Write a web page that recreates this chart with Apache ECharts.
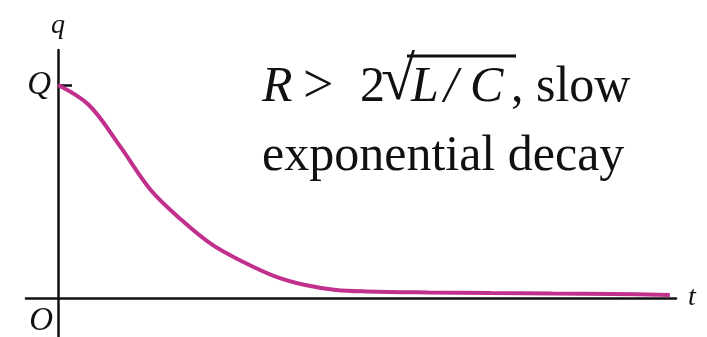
<!DOCTYPE html>
<html>
<head>
<meta charset="utf-8">
<script src="https://cdn.jsdelivr.net/npm/echarts@6/dist/echarts.min.js"></script>
<style>
  html, body { margin: 0; padding: 0; background: #ffffff; }
  #chart { width: 707px; height: 337px; }
</style>
</head>
<body>
<div id="chart"></div>
<script>
// Charge q(t) on an overdamped RLC circuit, starting from q = Q.
const timeValues   = [0, 0.5, 1.0, 1.5, 2.0, 2.5, 3.0, 3.5, 4.0, 4.5, 5.0, 6.0, 7.0, 8.0, 9.0, 9.9];
const chargeValues = [1.0, 0.906, 0.714, 0.507, 0.366, 0.249, 0.169, 0.103, 0.061, 0.038, 0.031, 0.026, 0.023, 0.021, 0.019, 0.014];
const chargeTicks  = [1];
const chargeTickLabels = ['Q'];
const originLabel  = ['O'];
const axisNames    = ['t', 'q'];

const serif = '"Liberation Serif", "Times New Roman", serif';
const ink = '#111111';

const chart = echarts.init(document.getElementById('chart'), null, { renderer: 'canvas' });

chart.setOption({
  animation: false,
  backgroundColor: '#ffffff',
  grid: { left: 26, right: 31, top: 50, bottom: 0, containLabel: false, outerBoundsMode: 'none' },
  xAxis: {
    type: 'value',
    min: -0.518,
    max: 10,
    name: axisNames[0],
    nameLocation: 'end',
    nameGap: 12,
    nameTextStyle: { fontFamily: serif, fontStyle: 'italic', fontSize: 28, color: ink, verticalAlign: 'middle', padding: [30, 0, 0, 0] },
    axisLine: { onZero: true, lineStyle: { color: ink, width: 2.5 } },
    axisTick: { show: false },
    splitLine: { show: false },
    axisLabel: { show: false }
  },
  yAxis: {
    type: 'value',
    min: -0.183,
    max: 1.164,
    name: axisNames[1],
    nameLocation: 'end',
    nameGap: 10,
    nameTextStyle: { fontFamily: serif, fontStyle: 'italic', fontSize: 28, color: ink },
    axisLine: { onZero: true, lineStyle: { color: ink, width: 2.5 } },
    axisTick: { show: true, customValues: chargeTicks, inside: true, length: 14, lineStyle: { color: ink, width: 2.5 } },
    splitLine: { show: false },
    axisLabel: { show: false }
  },
  series: [{
    type: 'line',
    data: timeValues.map((t, i) => [t, chargeValues[i]]),
    smooth: 0.35,
    symbol: 'none',
    lineStyle: { color: '#c1308c', width: 4 },
    z: 3
  }],
  graphic: [
    { id: 'r', type: 'text', left: 262, top: 63, style: { text: 'R', font: 'italic 50px ' + serif, fill: ink } },
    { id: 'gt', type: 'text', left: 303, top: 61, style: { text: '>', font: '54px ' + serif, fill: ink } },
    { id: 'two', type: 'text', left: 360, top: 63, style: { text: '2', font: '50px ' + serif, fill: ink } },
    { id: 'root', type: 'text', left: 381, top: 52, style: { text: '\u221A', font: '62px ' + serif, fill: ink } },
    { id: 'bar', type: 'line', shape: { x1: 407, y1: 56, x2: 516, y2: 56 }, style: { stroke: ink, lineWidth: 3 } },
    { id: 'l', type: 'text', left: 411, top: 63, style: { text: 'L', font: 'italic 50px ' + serif, fill: ink } },
    { id: 'slash', type: 'text', left: 444, top: 63, style: { text: '/', font: 'italic 50px ' + serif, fill: ink } },
    { id: 'c', type: 'text', left: 470, top: 63, style: { text: 'C', font: 'italic 50px ' + serif, fill: ink } },
    { id: 'slow', type: 'text', left: 511, top: 63, style: { text: ', slow', font: '50px ' + serif, fill: ink } },
    { id: 'decay', type: 'text', left: 262, top: 132, style: { text: 'exponential decay', font: '50px ' + serif, fill: ink } }
  ]
});

// Q beside the y-axis tick at q = Q, O below-left of the origin.
const qPos = chart.convertToPixel({ gridIndex: 0 }, [0, chargeTicks[0]]);
const oPos = chart.convertToPixel({ gridIndex: 0 }, [0, 0]);
chart.setOption({
  graphic: [
    { id: 'qLabel', type: 'text', x: qPos[0] - 7, y: qPos[1], style: { text: chargeTickLabels[0], font: 'italic 33px ' + serif, fill: ink, align: 'right', verticalAlign: 'middle' } },
    { id: 'oLabel', type: 'text', x: oPos[0] - 5, y: oPos[1] + 23, style: { text: originLabel[0], font: 'italic 33px ' + serif, fill: ink, align: 'right', verticalAlign: 'middle' } }
  ]
});
</script>
</body>
</html>
